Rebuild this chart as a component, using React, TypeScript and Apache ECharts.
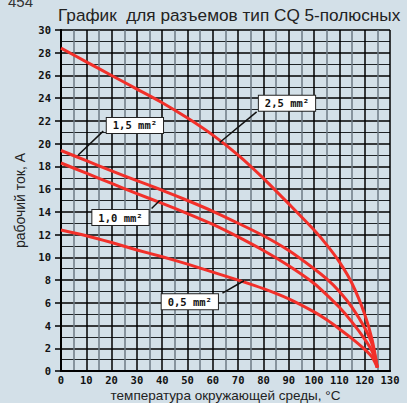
import React, { useEffect, useRef } from "react";
import * as echarts from "echarts";

const temps = [0, 10, 20, 30, 40, 50, 60, 70, 80, 90, 100, 105, 110, 115, 120, 123, 125];
const s25 = [28.4, 27.2, 26.0, 24.8, 23.6, 22.25, 20.75, 19.0, 16.95, 14.7, 12.4, 11.1, 9.6, 7.7, 5.0, 2.7, 0.3];
const s15 = [19.4, 18.5, 17.6, 16.75, 15.9, 15.0, 14.05, 13.0, 11.9, 10.6, 9.0, 8.1, 7.0, 5.6, 3.8, 2.3, 0.3];
const s10 = [18.3, 17.4, 16.5, 15.6, 14.75, 13.85, 12.9, 11.8, 10.6, 9.25, 7.7, 6.7, 5.6, 4.3, 2.8, 1.7, 0.3];
const s05 = [12.4, 11.9, 11.3, 10.65, 10.05, 9.4, 8.7, 8.0, 7.25, 6.35, 5.2, 4.5, 3.7, 2.85, 1.9, 1.2, 0.3];

const seriesNames = ["2,5 mm²", "1,5 mm²", "1,0 mm²", "0,5 mm²"];
const seriesData = [s25, s15, s10, s05];

// annotation: label center, leader start (near box), leader end (on curve) in data coords
const labelCenters = [[89.3, 23.55], [29.2, 21.6], [23.5, 13.5], [50.9, 6.1]];
const leaderFrom = [[77.3, 22.8], [16.7, 21.1], [35.8, 14.3], [63.8, 6.85]];
const leaderTo = [[62.7, 20.1], [6.8, 19.0], [39.0, 15.0], [72.3, 7.94]];

const titleText = "График  для разъемов тип CQ 5-полюсных";
const xName = "температура окружающей среды, °С";
const yName = "рабочий ток, A";
const pageNo = "454";

export default function App() {
  const ref = useRef<HTMLDivElement>(null);
  useEffect(() => {
    const chart = echarts.init(ref.current!, null, { renderer: "svg" });
    const lineColor = "#f2302a";
    const option: any = {
      animation: false,
      backgroundColor: "#d3e0e8",
      title: {
        text: titleText,
        left: 58,
        top: 6,
        padding: 0,
        textStyle: { fontFamily: "Liberation Sans", fontSize: 17.2, fontWeight: "normal", color: "#222" },
      },
      grid: { left: 61, top: 30, right: 17, bottom: 32, outerBoundsMode: "none", containLabel: false },
      xAxis: [
        {
          type: "value",
          min: 0,
          max: 130,
          interval: 10,
          name: xName,
          nameLocation: "middle",
          nameGap: 17.5,
          nameMoveOverlap: false,
          nameTextStyle: { fontFamily: "Liberation Sans", fontSize: 13.5, color: "#222", verticalAlign: "top" },
          axisLine: { show: true, lineStyle: { color: "#000", width: 2 } },
          axisTick: { show: false },
          axisLabel: { margin: 3.5, fontFamily: "DejaVu Sans Mono", fontWeight: "bold", fontSize: 10.5, color: "#111" },
          splitLine: { show: true, lineStyle: { color: "#000", width: 1.5 } },
          minorTick: { show: false, splitNumber: 2 },
          minorSplitLine: { show: true, lineStyle: { color: "#6c7a84", width: 1.5 } },
        },
        {
          type: "value",
          position: "top",
          min: 0,
          max: 130,
          interval: 10,
          axisLine: { show: true, lineStyle: { color: "#000", width: 2 } },
          axisTick: { show: false },
          axisLabel: { show: false },
          splitLine: { show: false },
        },
      ],
      yAxis: [
        {
          type: "value",
          min: 0,
          max: 30,
          interval: 2,
          name: yName,
          nameLocation: "middle",
          nameGap: 34,
          nameMoveOverlap: false,
          nameTextStyle: { fontFamily: "Liberation Sans", fontSize: 14, color: "#222" },
          axisLine: { show: true, lineStyle: { color: "#000", width: 2 } },
          axisTick: { show: true, length: 6, lineStyle: { color: "#000", width: 1.5 } },
          axisLabel: { margin: 10, fontFamily: "DejaVu Sans Mono", fontWeight: "bold", fontSize: 10.5, color: "#111" },
          splitLine: { show: true, lineStyle: { color: "#000", width: 1.5 } },
          minorTick: { show: false, splitNumber: 2 },
          minorSplitLine: { show: true, lineStyle: { color: "#1e2326", width: 1.2 } },
        },
        {
          type: "value",
          position: "right",
          min: 0,
          max: 30,
          interval: 2,
          axisLine: { show: true, lineStyle: { color: "#000", width: 2 } },
          axisTick: { show: false },
          axisLabel: { show: false },
          splitLine: { show: false },
        },
      ],
      series: seriesData.map((d, i) => ({
        type: "line",
        name: seriesNames[i],
        data: temps.map((t, j) => [t, d[j]]),
        smooth: 0.25,
        symbol: "none",
        lineStyle: { color: lineColor, width: 3 },
        z: 5,
      })),
      graphic: [
        {
          type: "text",
          left: 8,
          top: -6,
          style: { text: pageNo, fontFamily: "Liberation Sans", fontSize: 15, fill: "#333" },
        },
      ],
    };
    chart.setOption(option);

    const g: any[] = [];
    seriesNames.forEach((name, i) => {
      const a = chart.convertToPixel({ gridIndex: 0 }, leaderFrom[i]) as number[];
      const b = chart.convertToPixel({ gridIndex: 0 }, leaderTo[i]) as number[];
      const c = chart.convertToPixel({ gridIndex: 0 }, labelCenters[i]) as number[];
      g.push({
        type: "line",
        shape: { x1: a[0], y1: a[1], x2: b[0], y2: b[1] },
        style: { stroke: "#111", lineWidth: 1.5 },
        z: 10,
      });
      g.push({
        type: "text",
        x: c[0],
        y: c[1],
        z: 11,
        style: {
          text: name,
          align: "center",
          verticalAlign: "middle",
          fontFamily: "DejaVu Sans Mono",
          fontWeight: "bold",
          fontSize: 10.5,
          fill: "#111",
          backgroundColor: "#fff",
          borderColor: "#222",
          borderWidth: 1,
          padding: [2, 6, 2, 6],
        },
      });
    });
    chart.setOption({ graphic: [option.graphic[0], ...g] });

    return () => chart.dispose();
  }, []);
  return <div ref={ref} style={{ width: 407, height: 403, position: "absolute", left: 0, top: 0 }} />;
}
